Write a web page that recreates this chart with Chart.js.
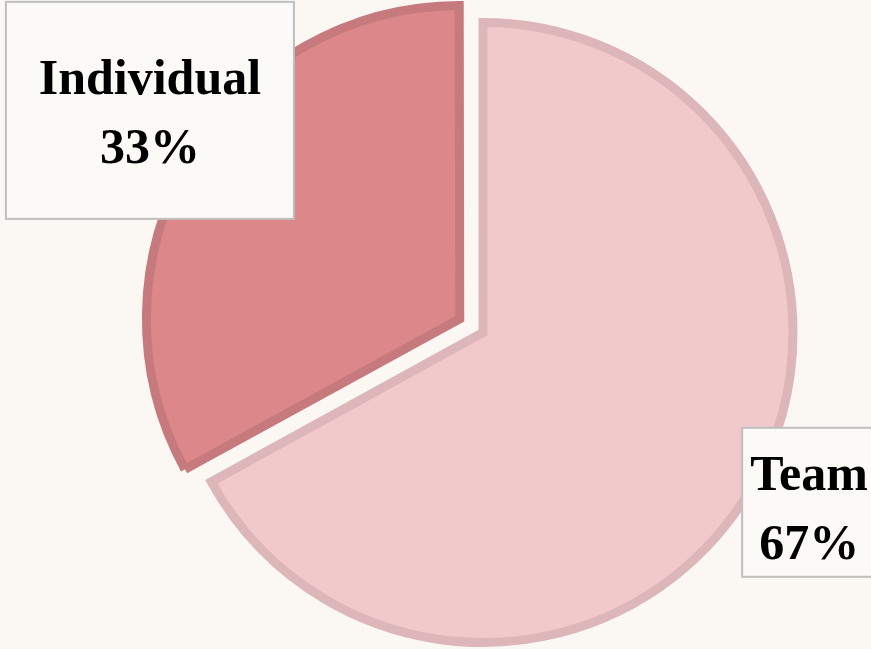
<!DOCTYPE html>
<html>
<head>
<meta charset="utf-8">
<script src="https://cdn.jsdelivr.net/npm/chart.js@4.4.1/dist/chart.umd.min.js"></script>
<style>
  html, body { margin: 0; padding: 0; background: #FBF8F3; }
  #wrap { width: 871px; height: 649px; }
</style>
</head>
<body>
<div id="wrap"><canvas id="c" width="871" height="649"></canvas></div>
<script>
const categories = ["Team", "Individual"];
const shares = [67, 33];
const percentLabels = ["67%", "33%"];

const fills = ["#F2C9CB", "#DC878A"];
const borders = ["#DDB6B9", "#C77A7D"];
// Chart.js moves an arc by offset/4 pixels, so 108 -> about 27px of explode
const explode = [0, 108];

// label box style per slice: radius factor, angle nudge (deg), box width/height, text dy
const labelStyle = [
  { factor: 1.171, nudge: -3.1, w: 134, h: 149, dy: 2 },
  { factor: 1.275, nudge: 3.1, w: 288, h: 217, dy: -2 }
];

const labelPlugin = {
  id: 'boxLabels',
  afterDraw(chart) {
    const ctx = chart.ctx;
    const meta = chart.getDatasetMeta(0);
    const area = chart.chartArea;
    const cx = (area.left + area.right) / 2;
    const cy = (area.top + area.bottom) / 2;
    meta.data.forEach((arc, i) => {
      const p = arc.getProps(['startAngle', 'endAngle', 'outerRadius'], true);
      const st = labelStyle[i];
      const mid = (p.startAngle + p.endAngle) / 2 + st.nudge * Math.PI / 180;
      const r = (p.outerRadius + 4) * st.factor;
      const x = cx + Math.cos(mid) * r;
      const y = cy + Math.sin(mid) * r;
      ctx.save();
      ctx.fillStyle = '#FCFAF6';
      ctx.strokeStyle = '#BFBFBF';
      ctx.lineWidth = 2;
      ctx.fillRect(x - st.w / 2, y - st.h / 2, st.w, st.h);
      ctx.strokeRect(x - st.w / 2, y - st.h / 2, st.w, st.h);
      ctx.fillStyle = '#000000';
      ctx.font = 'bold 50px "Liberation Serif", "DejaVu Serif", serif';
      ctx.textAlign = 'center';
      ctx.textBaseline = 'alphabetic';
      ctx.fillText(categories[i], x, y - 14 + st.dy);
      ctx.fillText(percentLabels[i], x, y + 55 + st.dy);
      ctx.restore();
    });
  }
};

const bgPlugin = {
  id: 'bg',
  beforeDraw(chart) {
    const ctx = chart.ctx;
    ctx.save();
    ctx.fillStyle = '#FBF8F3';
    ctx.fillRect(0, 0, chart.width, chart.height);
    ctx.restore();
  }
};

new Chart(document.getElementById('c'), {
  type: 'pie',
  data: {
    labels: categories,
    datasets: [{
      data: shares,
      backgroundColor: fills,
      borderColor: borders,
      borderWidth: 9,
      borderJoinStyle: 'miter',
      offset: explode,
      hoverOffset: 0
    }]
  },
  options: {
    responsive: false,
    animation: false,
    radius: 310,
    layout: { padding: { left: 95, right: 0, top: 16, bottom: 0 } },
    plugins: {
      legend: { display: false },
      tooltip: { enabled: false }
    },
    events: []
  },
  plugins: [bgPlugin, labelPlugin]
});
</script>
</body>
</html>
